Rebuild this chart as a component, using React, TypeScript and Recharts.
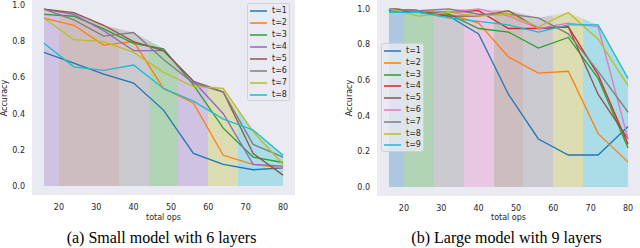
import React from 'react';
import { ComposedChart, Line, Area, XAxis, YAxis, CartesianGrid } from 'recharts';

const totalOps = [16, 24, 32, 40, 48, 56, 64, 72, 80];
const xTicks = [20, 30, 40, 50, 60, 70, 80];
const yTicks = [0, 0.2, 0.4, 0.6, 0.8, 1.0];

// (a) small model with 6 layers
const smallT1 = [0.74, 0.68, 0.62, 0.57, 0.42, 0.18, 0.12, 0.09, 0.1];
const smallT2 = [0.93, 0.89, 0.78, 0.8, 0.54, 0.46, 0.17, 0.12, 0.1];
const smallT3 = [0.95, 0.94, 0.87, 0.79, 0.76, 0.56, 0.32, 0.16, 0.13];
const smallT4 = [0.98, 0.95, 0.86, 0.75, 0.75, 0.58, 0.4, 0.12, 0.11];
const smallT5 = [0.98, 0.96, 0.89, 0.8, 0.75, 0.58, 0.52, 0.18, 0.06];
const smallT6 = [0.98, 0.92, 0.83, 0.85, 0.7, 0.57, 0.52, 0.23, 0.16];
const smallT7 = [0.93, 0.81, 0.8, 0.74, 0.63, 0.55, 0.54, 0.3, 0.12];
const smallT8 = [0.79, 0.66, 0.64, 0.67, 0.54, 0.47, 0.37, 0.31, 0.17];
// which t is shaded around each point
const smallBest = [4, 5, 5, 6, 3, 4, 7, 8, 8];

// (b) large model with 9 layers
const largeT1 = [0.99, 0.98, 0.96, 0.86, 0.52, 0.27, 0.18, 0.18, 0.34];
const largeT2 = [1.0, 0.99, 0.97, 0.92, 0.73, 0.64, 0.65, 0.3, 0.14];
const largeT3 = [1.0, 0.99, 0.97, 0.89, 0.87, 0.78, 0.84, 0.61, 0.22];
const largeT4 = [1.0, 0.99, 0.98, 0.99, 0.89, 0.89, 0.9, 0.63, 0.24];
const largeT5 = [1.0, 0.99, 0.96, 0.96, 0.99, 0.89, 0.9, 0.52, 0.27];
const largeT6 = [1.0, 0.99, 0.98, 1.0, 0.96, 0.89, 0.92, 0.9, 0.27];
const largeT7 = [1.0, 0.99, 1.0, 0.97, 0.97, 0.95, 0.86, 0.65, 0.42];
const largeT8 = [1.0, 0.96, 0.98, 0.96, 0.97, 0.9, 0.98, 0.83, 0.57];
const largeT9 = [0.98, 0.98, 0.95, 0.93, 0.91, 0.87, 0.91, 0.91, 0.61];
const largeBest = [1, 3, 7, 6, 5, 7, 8, 9, 9];

const smallColors = ['#1f77b4', '#ff7f0e', '#2ca02c', '#9467bd', '#8c564b', '#7f7f7f', '#bcbd22', '#17becf'];
const largeColors = ['#1f77b4', '#ff7f0e', '#2ca02c', '#d62728', '#8c564b', '#e377c2', '#7f7f7f', '#bcbd22', '#17becf'];

const textColor = '#262626';
const sans = '"DejaVu Sans", sans-serif';

type PanelProps = {
  id: string;
  left: number;
  series: number[][];
  colors: string[];
  best: number[];
  axisWidth: number;
  rightMargin: number;
  plotHeight: number;
  yDomain: [number, number];
  legend: { left: number; top: number; width: number; height: number; first: number; step: number };
  yLabelX: number;
  caption: string;
};

const Panel = (p: PanelProps) => {
  const rows = totalOps.map((x, i) => {
    const row: Record<string, number> = { ops: x };
    p.series.forEach((s, k) => {
      row[`t${k + 1}`] = s[i];
    });
    row.best = Math.max(...p.series.map((s) => s[i]));
    return row;
  });

  const lo = totalOps[0];
  const hi = totalOps[totalOps.length - 1];
  const half = (totalOps[1] - totalOps[0]) / 2;
  const stops: { offset: number; color: string }[] = [];
  totalOps.forEach((x, i) => {
    const color = p.colors[p.best[i] - 1];
    stops.push({ offset: (Math.max(lo, x - half) - lo) / (hi - lo), color });
    stops.push({ offset: (Math.min(hi, x + half) - lo) / (hi - lo), color });
  });

  const plotLeft = p.axisWidth;
  const plotRight = 320 - p.rightMargin;
  const cx = (plotLeft + plotRight) / 2;

  return (
    <div style={{ position: 'absolute', left: p.left, top: 0, width: 320, height: 248 }}>
      <ComposedChart
        width={320}
        height={248}
        data={rows}
        margin={{ top: 0, right: p.rightMargin, bottom: 0, left: 0 }}
      >
        <defs>
          <linearGradient id={`bands-${p.id}`} x1="0" y1="0" x2="1" y2="0">
            {stops.map((s, i) => (
              <stop key={i} offset={s.offset} stopColor={s.color} />
            ))}
          </linearGradient>
        </defs>
        <CartesianGrid fill="#EAEAF2" horizontal={false} vertical={false} />
        <XAxis
          type="number"
          dataKey="ops"
          domain={[12.8, 83.2]}
          ticks={xTicks}
          allowDataOverflow
          height={248 - p.plotHeight}
          tickLine={false}
          axisLine={false}
          tickSize={0}
          tickMargin={9}
          tick={{ fontSize: 8, fill: textColor, fontFamily: sans }}
        />
        <YAxis
          type="number"
          domain={p.yDomain}
          ticks={yTicks}
          allowDataOverflow
          width={p.axisWidth}
          tickFormatter={(v: number) => v.toFixed(1)}
          tickLine={false}
          axisLine={false}
          tickSize={0}
          tickMargin={7}
          tick={{ fontSize: 8, fill: textColor, fontFamily: sans }}
        />
        <Area
          type="linear"
          dataKey="best"
          baseValue={0}
          stroke="none"
          fill={`url(#bands-${p.id})`}
          fillOpacity={0.3}
          legendType="none"
          isAnimationActive={false}
        />
        {p.series.map((_, k) => (
          <Line
            key={k}
            type="linear"
            dataKey={`t${k + 1}`}
            name={`t=${k + 1}`}
            stroke={p.colors[k]}
            strokeWidth={1.3}
            dot={false}
            isAnimationActive={false}
          />
        ))}
      </ComposedChart>

      <div
        style={{
          position: 'absolute',
          left: p.legend.left,
          top: p.legend.top,
          width: p.legend.width,
          height: p.legend.height,
          boxSizing: 'border-box',
          background: 'rgba(234,234,242,0.8)',
          border: '1px solid rgba(204,204,204,0.8)',
          borderRadius: 3,
        }}
      >
        {p.series.map((_, k) => (
          <div
            key={k}
            style={{
              position: 'absolute',
              left: 0,
              top: Math.round(p.legend.first + k * p.legend.step) - 5,
              height: 10,
              width: '100%',
            }}
          >
            <svg style={{ position: 'absolute', left: 2, top: 0 }} width={18} height={10}>
              <line x1={0} x2={17} y1={5} y2={5} stroke={p.colors[k]} strokeWidth={1.5} />
            </svg>
            <span
              style={{ position: 'absolute', left: 24, top: 0, fontSize: 8, lineHeight: '10px', fontFamily: sans, color: textColor, whiteSpace: 'nowrap' }}
            >
              {`t=${k + 1}`}
            </span>
          </div>
        ))}
      </div>

      <div
        style={{
          position: 'absolute',
          left: p.yLabelX - 30,
          top: p.plotHeight / 2 - 5,
          width: 60,
          height: 10,
          lineHeight: '10px',
          textAlign: 'center',
          fontSize: 8,
          fontFamily: sans,
          color: textColor,
          transform: 'rotate(-90deg)',
        }}
      >
        Accuracy
      </div>
      <div
        style={{
          position: 'absolute',
          left: cx - 40,
          top: 213,
          width: 80,
          lineHeight: '10px',
          textAlign: 'center',
          fontSize: 8,
          fontFamily: sans,
          color: textColor,
        }}
      >
        total ops
      </div>
      <div
        style={{
          position: 'absolute',
          left: cx - 122,
          top: 229,
          width: 240,
          lineHeight: '18px',
          textAlign: 'center',
          fontSize: 16,
          fontFamily: '"Liberation Serif", serif',
          color: '#000',
          whiteSpace: 'nowrap',
        }}
      >
        {p.caption}
      </div>
    </div>
  );
};

export default function App() {
  return (
    <div style={{ position: 'absolute', left: 0, top: 0, width: 640, height: 248, overflow: 'hidden', background: '#fff' }}>
      <Panel
        id="small"
        left={0}
        series={[smallT1, smallT2, smallT3, smallT4, smallT5, smallT6, smallT7, smallT8]}
        colors={smallColors}
        best={smallBest}
        axisWidth={32}
        rightMargin={25}
        plotHeight={195}
        yDomain={[-0.05, 1.03]}
        legend={{ left: 247, top: 3, width: 43, height: 98, first: 6.7, step: 12 }}
        yLabelX={4.5}
        caption="(a) Small model with 6 layers"
      />
      <Panel
        id="large"
        left={320}
        series={[largeT1, largeT2, largeT3, largeT4, largeT5, largeT6, largeT7, largeT8, largeT9]}
        colors={largeColors}
        best={largeBest}
        axisWidth={57}
        rightMargin={0}
        plotHeight={196}
        yDomain={[-0.05, 1.05]}
        legend={{ left: 61, top: 43, width: 43, height: 109, first: 7, step: 11.8 }}
        yLabelX={30}
        caption="(b) Large model with 9 layers"
      />
    </div>
  );
}
